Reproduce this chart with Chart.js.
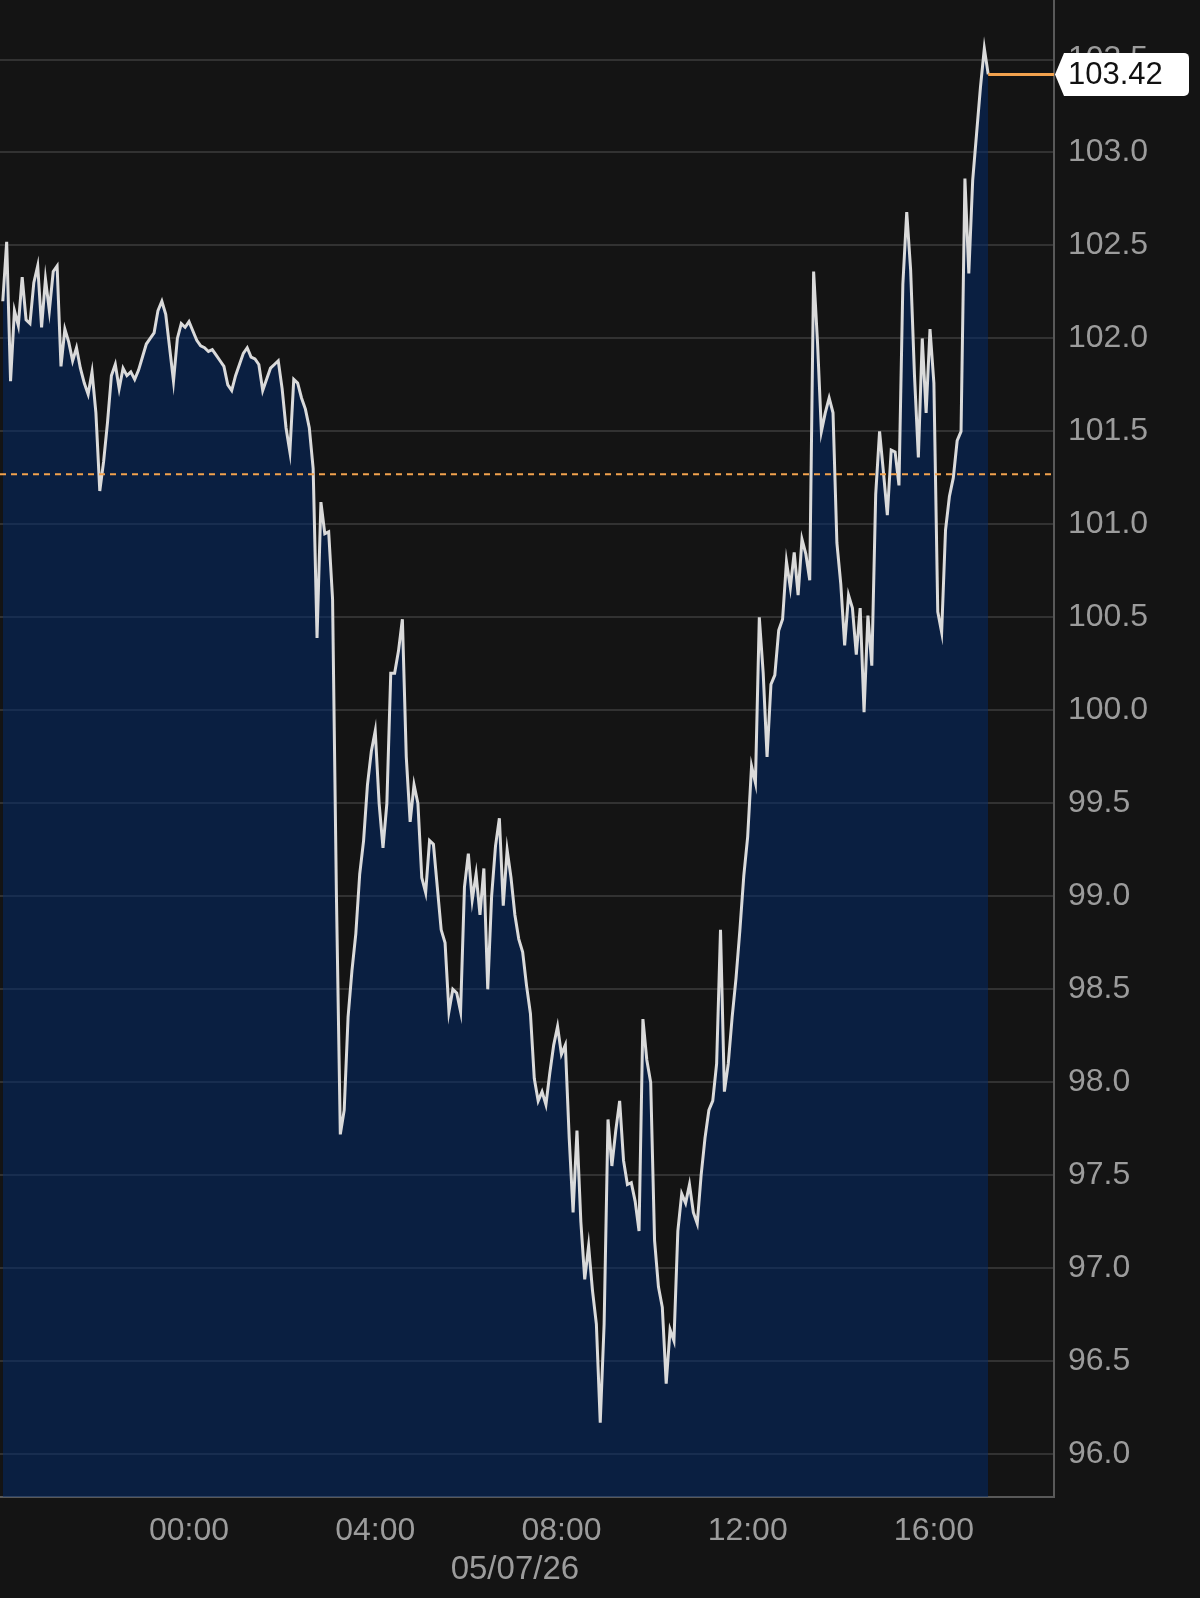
<!DOCTYPE html>
<html>
<head>
<meta charset="utf-8">
<title>Intraday price</title>
<script src="https://cdn.jsdelivr.net/npm/chart.js@4.4.1/dist/chart.umd.min.js"></script>
<style>
  html, body { margin: 0; padding: 0; background: #141414; }
  canvas { display: block; }
</style>
</head>
<body>
<canvas id="chart" width="1200" height="1598"></canvas>
<script>
// 5 minute closes, first one at 20:00 the evening before
const startHour = -4;
const stepMinutes = 5;
const prices = [
  102.20, 102.52, 101.77, 102.15, 102.07, 102.33, 102.10, 102.08, 102.30, 102.39,
  102.06, 102.32, 102.15, 102.36, 102.39, 101.85, 102.05, 101.98, 101.88, 101.95,
  101.84, 101.76, 101.70, 101.82, 101.60, 101.18, 101.34, 101.55, 101.80, 101.86,
  101.73, 101.84, 101.80, 101.82, 101.78, 101.83, 101.90, 101.97, 102.00, 102.03,
  102.15, 102.20, 102.13, 101.95, 101.77, 102.00, 102.08, 102.06, 102.09, 102.04,
  101.99, 101.96, 101.95, 101.93, 101.94, 101.91, 101.88, 101.85, 101.75, 101.72,
  101.80, 101.86, 101.92, 101.95, 101.90, 101.89, 101.86, 101.72, 101.78, 101.84,
  101.86, 101.88, 101.73, 101.52, 101.39, 101.78, 101.76, 101.68, 101.62, 101.52,
  101.30, 100.39, 101.12, 100.95, 100.96, 100.60, 99.00, 97.72, 97.85, 98.35,
  98.60, 98.80, 99.12, 99.30, 99.60, 99.78, 99.89, 99.50, 99.26, 99.50,
  100.20, 100.20, 100.32, 100.49, 99.75, 99.40, 99.60, 99.50, 99.10, 99.02,
  99.30, 99.28, 99.05, 98.82, 98.75, 98.38, 98.50, 98.48, 98.38, 99.05,
  99.23, 98.98, 99.12, 98.90, 99.15, 98.50, 99.00, 99.27, 99.42, 98.95,
  99.25, 99.10, 98.90, 98.77, 98.70, 98.52, 98.37, 98.02, 97.90, 97.95,
  97.88, 98.05, 98.20, 98.30, 98.15, 98.20, 97.70, 97.30, 97.74, 97.25,
  96.94, 97.12, 96.88, 96.70, 96.17, 96.70, 97.80, 97.55, 97.74, 97.90,
  97.58, 97.45, 97.46, 97.36, 97.20, 98.34, 98.12, 98.00, 97.15, 96.90,
  96.79, 96.38, 96.67, 96.61, 97.20, 97.40, 97.35, 97.45, 97.30, 97.24,
  97.50, 97.70, 97.85, 97.90, 98.10, 98.82, 97.95, 98.10, 98.35, 98.56,
  98.82, 99.11, 99.32, 99.70, 99.61, 100.50, 100.20, 99.75, 100.14, 100.19,
  100.43, 100.49, 100.80, 100.66, 100.85, 100.62, 100.92, 100.84, 100.70, 102.36,
  101.98, 101.50, 101.60, 101.68, 101.60, 100.90, 100.68, 100.35, 100.62, 100.55,
  100.30, 100.55, 99.99, 100.51, 100.24, 101.16, 101.50, 101.28, 101.05, 101.40,
  101.39, 101.21, 102.29, 102.68, 102.37, 101.80, 101.36, 102.00, 101.60, 102.05,
  101.76, 100.53, 100.42, 100.97, 101.15, 101.25, 101.45, 101.50, 102.86, 102.35,
  102.85, 103.10, 103.35, 103.56, 103.42
];
const refPrice = 101.27;           // previous close, dashed
const xTickHours = [0, 4, 8, 12, 16];
const xTickLabels = ['00:00', '04:00', '08:00', '12:00', '16:00'];
const dateLabel = '05/07/26';
const dateLabelHour = 7;

const FONT = '"Liberation Sans", Arial, sans-serif';
const GREY = '#9c9c9c';
const ORANGE = '#f2a24e';

const points = prices.map((p, i) => ({ x: startHour + i * stepMinutes / 60, y: p }));
const lastPoint = points[points.length - 1];

// chart.js reserves room for half a label at the axis ends, we want the plot flush
function noPadding(s) {
  s.paddingTop = 0; s.paddingBottom = 0; s.paddingLeft = 0; s.paddingRight = 0;
}

const overlay = {
  id: 'overlay',
  afterDatasetsDraw(chart) {
    const { ctx, chartArea, scales: { y } } = chart;
    const yRef = y.getPixelForValue(refPrice);
    ctx.save();
    ctx.strokeStyle = ORANGE;
    ctx.lineWidth = 2;
    ctx.setLineDash([6, 5]);
    ctx.beginPath();
    ctx.moveTo(chartArea.left, yRef);
    ctx.lineTo(chartArea.right, yRef);
    ctx.stroke();
    ctx.restore();
  },
  afterDraw(chart) {
    const { ctx, chartArea, scales: { x, y } } = chart;
    const xl = x.getPixelForValue(lastPoint.x);
    const yl = y.getPixelForValue(lastPoint.y);
    ctx.save();
    // last price line
    ctx.strokeStyle = ORANGE;
    ctx.lineWidth = 3;
    ctx.beginPath();
    ctx.moveTo(xl, yl);
    ctx.lineTo(chartArea.right, yl);
    ctx.stroke();

    // price tag
    const tip = chartArea.right + 1, arrow = 9, w = 125, h = 43, r = 5;
    const top = yl - h / 2, bot = yl + h / 2, left = tip + arrow, right = left + w;
    ctx.fillStyle = '#ffffff';
    ctx.beginPath();
    ctx.moveTo(tip, yl);
    ctx.lineTo(left, top);
    ctx.lineTo(right - r, top);
    ctx.arcTo(right, top, right, top + r, r);
    ctx.lineTo(right, bot - r);
    ctx.arcTo(right, bot, right - r, bot, r);
    ctx.lineTo(left, bot);
    ctx.closePath();
    ctx.fill();
    ctx.fillStyle = '#111111';
    ctx.font = '31px ' + FONT;
    ctx.textAlign = 'left';
    ctx.textBaseline = 'middle';
    ctx.fillText(lastPoint.y.toFixed(2), left + 4, yl + 1);

    // date under the time axis
    ctx.fillStyle = GREY;
    ctx.font = '33px ' + FONT;
    ctx.textAlign = 'center';
    ctx.fillText(dateLabel, x.getPixelForValue(dateLabelHour), chart.height - 28);
    ctx.restore();
  }
};

new Chart(document.getElementById('chart'), {
  type: 'line',
  data: {
    datasets: [{
      data: points,
      borderColor: '#dadada',
      borderWidth: 3,
      pointRadius: 0,
      tension: 0,
      fill: 'start',
      backgroundColor: 'rgba(0, 42, 110, 0.5)'
    }]
  },
  options: {
    responsive: false,
    devicePixelRatio: 1,
    animation: false,
    layout: { padding: 0 },
    plugins: {
      legend: { display: false },
      tooltip: { enabled: false }
    },
    scales: {
      x: {
        type: 'linear',
        min: -4.06,
        max: 18.58,
        afterBuildTicks: s => { s.ticks = xTickHours.map(v => ({ value: v })); },
        afterFit: s => { s.height = 101; noPadding(s); },
        grid: { display: false, drawTicks: false },
        border: { display: true, color: '#595959', width: 2 },
        ticks: {
          autoSkip: false,
          maxRotation: 0,
          padding: 15,
          color: GREY,
          font: { family: FONT, size: 32 },
          callback: v => xTickLabels[xTickHours.indexOf(v)]
        }
      },
      y: {
        position: 'right',
        min: 95.77,
        max: 103.82,
        afterFit: s => { s.width = 146; noPadding(s); },
        grid: { color: 'rgba(255,255,255,0.13)', lineWidth: 2, drawTicks: false },
        border: { display: true, color: '#595959', width: 2 },
        ticks: {
          stepSize: 0.5,
          includeBounds: false,
          padding: 14,
          color: GREY,
          font: { family: FONT, size: 32 },
          callback: v => v.toFixed(1)
        }
      }
    }
  },
  plugins: [overlay]
});
</script>
</body>
</html>
